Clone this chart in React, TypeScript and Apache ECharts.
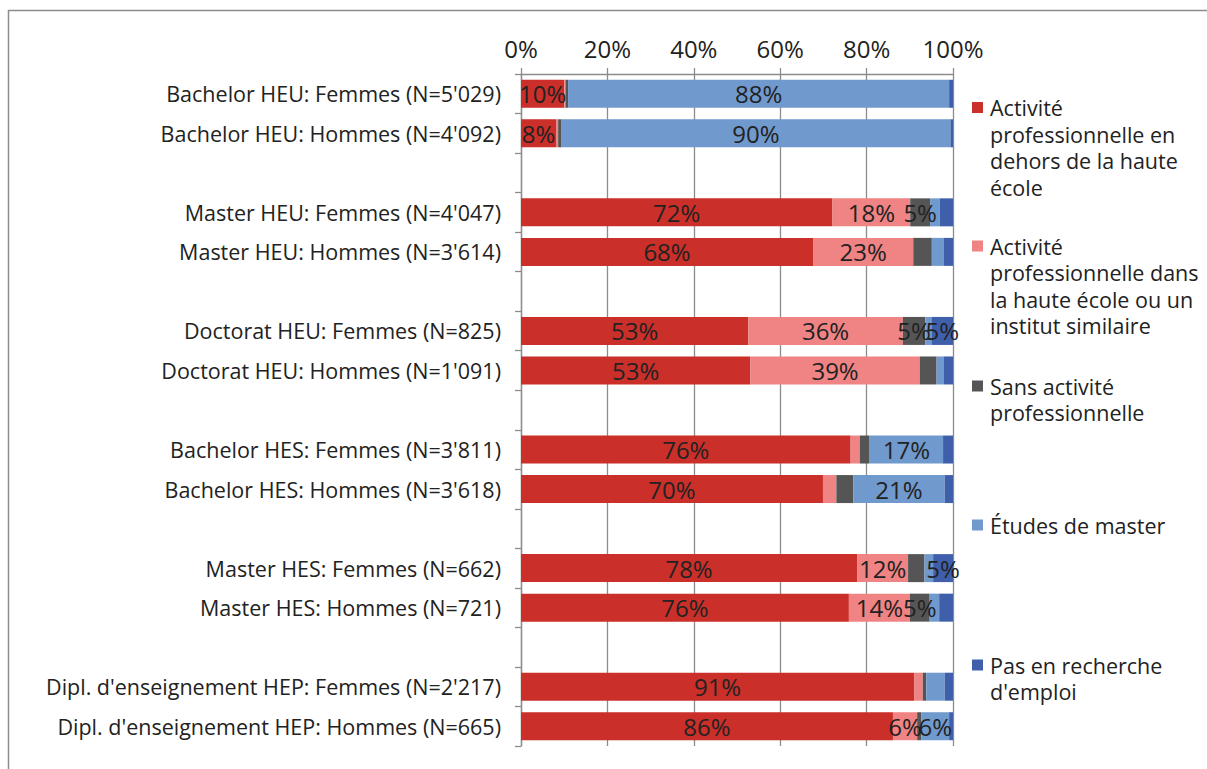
import React, { useEffect, useRef } from "react";
import * as echarts from "echarts";

const categories = [
  "Bachelor HEU: Femmes (N=5'029)",
  "Bachelor HEU: Hommes (N=4'092)",
  " ",
  "Master HEU: Femmes (N=4'047)",
  "Master HEU: Hommes (N=3'614)",
  "  ",
  "Doctorat HEU: Femmes (N=825)",
  "Doctorat HEU: Hommes (N=1'091)",
  "   ",
  "Bachelor HES: Femmes (N=3'811)",
  "Bachelor HES: Hommes (N=3'618)",
  "    ",
  "Master HES: Femmes (N=662)",
  "Master HES: Hommes (N=721)",
  "     ",
  "Dipl. d'enseignement HEP: Femmes (N=2'217)",
  "Dipl. d'enseignement HEP: Hommes (N=665)",
];

const seriesNames = [
  "Activité professionnelle en dehors de la haute école",
  "Activité professionnelle dans la haute école ou un institut similaire",
  "Sans activité professionnelle",
  "Études de master",
  "Pas en recherche d'emploi",
];

const legendLines = [
  "Activité\nprofessionnelle en\ndehors de la haute\nécole",
  "Activité\nprofessionnelle dans\nla haute école ou un\ninstitut similaire",
  "Sans activité\nprofessionnelle",
  "Études de master",
  "Pas en recherche\nd'emploi",
];

const activiteHorsHE = [10.0, 8.1, null, 72.1, 67.6, null, 52.6, 53.1, null, 76.3, 69.9, null, 77.8, 75.9, null, 91.0, 86.1];
const activiteDansHE = [0.3, 0.5, null, 18.0, 23.2, null, 35.8, 39.2, null, 2.1, 3.1, null, 11.8, 14.1, null, 2.0, 5.6];
const sansActivite = [0.6, 0.8, null, 4.6, 4.3, null, 5.2, 3.9, null, 2.3, 3.9, null, 3.8, 4.6, null, 0.8, 1.0];
const etudesMaster = [88.2, 90.0, null, 2.2, 2.8, null, 1.4, 1.6, null, 17.0, 21.2, null, 2.0, 2.2, null, 4.3, 6.4];
const pasRecherche = [0.9, 0.6, null, 3.1, 2.1, null, 5.0, 2.2, null, 2.3, 1.9, null, 4.6, 3.2, null, 1.9, 0.9];

const xTicks = [0, 20, 40, 60, 80, 100];

const colors = ["#cb2f29", "#f08383", "#555555", "#7099cd", "#3f5fab"];
const FONT = "Open Sans";
const TEXT = "#222222";

export default function App() {
  const ref = useRef<HTMLDivElement>(null);
  useEffect(() => {
    document.body.style.margin = "0";
    if (!ref.current) return;
    const chart = echarts.init(ref.current, undefined, { renderer: "svg" });
    const values = [activiteHorsHE, activiteDansHE, sansActivite, etudesMaster, pasRecherche];
    const L = 26.5;
    const iconCenters = [107.5, 246, 386, 525, 665];
    const legendGraphics = legendLines.map((txt, i) => ({
      type: "group",
      silent: true,
      children: [
        {
          type: "rect",
          shape: { x: 972, y: iconCenters[i] - 5.5, width: 11, height: 11 },
          style: { fill: colors[i] },
        },
        {
          type: "text",
          x: 990,
          y: iconCenters[i] - L / 2,
          style: {
            text: txt,
            fontFamily: FONT,
            fontSize: 21.5,
            lineHeight: L,
            fill: TEXT,
            verticalAlign: "top",
            align: "left",
          },
        },
      ],
    }));
    chart.setOption({
      animation: false,
      backgroundColor: "#ffffff",
      textStyle: { fontFamily: FONT },
      graphic: [
        {
          type: "rect",
          shape: { x: 8.5, y: 10.5, width: 1400, height: 1000 },
          style: { fill: "none", stroke: "#8c8c8c", lineWidth: 1.5 },
          silent: true,
        },
        ...legendGraphics,
      ],
      grid: { left: 521, top: 74, width: 432, height: 672 },
      xAxis: {
        type: "value",
        position: "top",
        min: 0,
        max: 100,
        interval: 20,
        axisLine: { show: true, lineStyle: { color: "#8c8c8c", width: 1.3 } },
        axisTick: { show: true, length: 6, lineStyle: { color: "#8c8c8c", width: 1.3 } },
        splitLine: { show: true, lineStyle: { color: "#8c8c8c", width: 1.3 } },
        axisLabel: {
          formatter: (v: number) => (xTicks.includes(v) ? v + "%" : ""),
          fontFamily: FONT,
          fontSize: 24,
          color: TEXT,
          margin: 14,
        },
      },
      yAxis: {
        type: "category",
        inverse: true,
        data: categories,
        axisLine: { show: true, lineStyle: { color: "#8c8c8c", width: 1.3 } },
        axisTick: { show: true, length: 6, lineStyle: { color: "#8c8c8c", width: 1.3 } },
        axisLabel: {
          fontFamily: FONT,
          fontSize: 21.5,
          color: TEXT,
          margin: 20,
        },
      },
      series: seriesNames.map((name, i) => ({
        name,
        type: "bar",
        stack: "total",
        barWidth: 28,
        data: values[i],
        itemStyle: { color: colors[i] },
        label: {
          show: true,
          position: "inside",
          fontFamily: FONT,
          fontSize: 24,
          color: TEXT,
          formatter: (p: any) => (p.value != null && p.value >= 4.5 ? Math.round(p.value) + "%" : ""),
        },
        labelLayout: { hideOverlap: false },
      })),
    });
    return () => chart.dispose();
  }, []);
  return <div ref={ref} style={{ width: 1207, height: 769 }} />;
}
